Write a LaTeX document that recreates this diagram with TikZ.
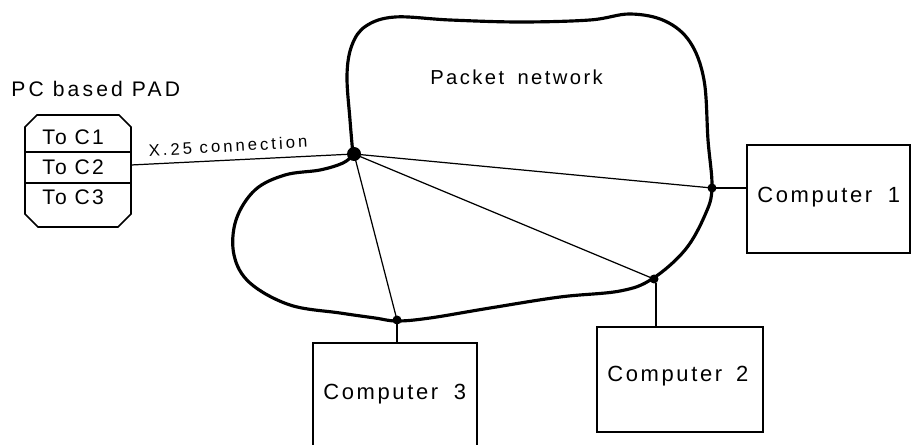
\documentclass[tikz,border=0pt]{standalone}
\usepackage{fontspec}
\newfontfamily\lblfont{Liberation Sans}
\newcommand{\lsfont}[2]{\lblfont\fontsize{#1}{#1}\selectfont\addfontfeatures{LetterSpace=#2}}
\begin{document}
\begin{tikzpicture}[x=0.02cm,y=-0.02cm,
  lbl/.style={inner sep=0pt, anchor=base west},
  complbl/.style={lbl, font=\lsfont{12.5}{12}},
  padlbl/.style={lbl, font=\lsfont{12}{10}},
  thinline/.style={line width=0.7pt},
  boxline/.style={line width=1.0pt},
  cloudline/.style={line width=1.8pt, line join=round, line cap=round},
  dotsmall/.style={circle, fill=black, inner sep=0pt, minimum size=0.18cm},
  dotbig/.style={circle, fill=black, inner sep=0pt, minimum size=0.28cm},
  compbox/.style={draw, boxline, rectangle, inner sep=0pt}]
\useasboundingbox (0,0) rectangle (912,445);

% cloud
\draw[cloudline] plot[smooth, tension=0.6] coordinates {
 (353,155) (350,120) (347,75) (352,45) (366,26) (395,17) (450,20) (520,22)
 (590,20) (630,14) (665,21) (690,42) (704,80) (708,140) (712,188) (705,215)
 (685,250) (652,279) (620,291) (560,297) (490,308) (430,318) (397,321)
 (375,318) (340,313) (290,305) (250,283) (234,255) (236,220) (255,190)
 (285,175) (320,170) (343,163) (353,155)};
\node[lbl, font=\lsfont{11.5}{12}] (net) at (430,85) {Packet \hspace{3pt}network};

% PAD
\draw[boxline] (25,127) -- (37,115) -- (119,115) -- (131,127) -- (131,214)
  -- (118,227) -- (38,227) -- (25,214) -- cycle;
\coordinate (padtl) at (25,152);
\coordinate (padtr) at (131,152);
\coordinate (padbl) at (25,183);
\coordinate (padbr) at (131,183);
\draw[boxline] (padtl) -- (padtr);
\draw[boxline] (padbl) -- (padbr);
\coordinate (pad) at (131,165);
\node[lbl, font=\lsfont{12}{15}] (padlbl) at (11,97) {PC based PAD};
\node[padlbl] (toc1) at (42,145) {To C1};
\node[padlbl] (toc2) at (42,175) {To C2};
\node[padlbl] (toc3) at (42,205) {To C3};

% dots
\node[dotbig] (hub) at (354,154) {};
\node[dotsmall] (d1) at (712,188) {};
\node[dotsmall] (d2) at (654,279) {};
\node[dotsmall] (d3) at (397,320) {};

% X.25 connection
\draw[thinline] (pad) -- (hub.center);
\node[inner sep=0pt, anchor=center, rotate=3.3, font=\lsfont{9.5}{18}] (x25) at (228,146) {X.25 connection};

% internal links
\draw[thinline] (hub.center) -- (d1.center);
\draw[thinline] (hub.center) -- (d2.center);
\draw[thinline] (hub.center) -- (d3.center);

% Computer 1
\node[compbox, minimum width=3.26cm, minimum height=2.16cm] (c1) at (828.5,199) {};
\node[complbl] (c1t) at (757,203) {Computer \hspace{4pt}1};
\draw[thinline] (d1.center) -- (d1.center -| c1.west);

% Computer 2
\node[compbox, minimum width=3.32cm, minimum height=2.10cm] (c2) at (680,379.5) {};
\node[complbl] (c2t) at (607,382) {Computer \hspace{3pt}2};
\coordinate (d2b) at (656,283);
\draw[thinline] (d2b) -- (d2b |- c2.north);

% Computer 3 (open at bottom)
\coordinate (c3bl) at (313,447);
\coordinate (c3tl) at (313,343);
\coordinate (c3tr) at (477,343);
\coordinate (c3br) at (477,447);
\draw[boxline] (c3bl) -- (c3tl) -- (c3tr) -- (c3br);
\node[complbl] (c3t) at (323,399) {Computer \hspace{4pt}3};
\draw[thinline] (d3.center) -- (d3.center |- c3tl);
\end{tikzpicture}
\end{document}
